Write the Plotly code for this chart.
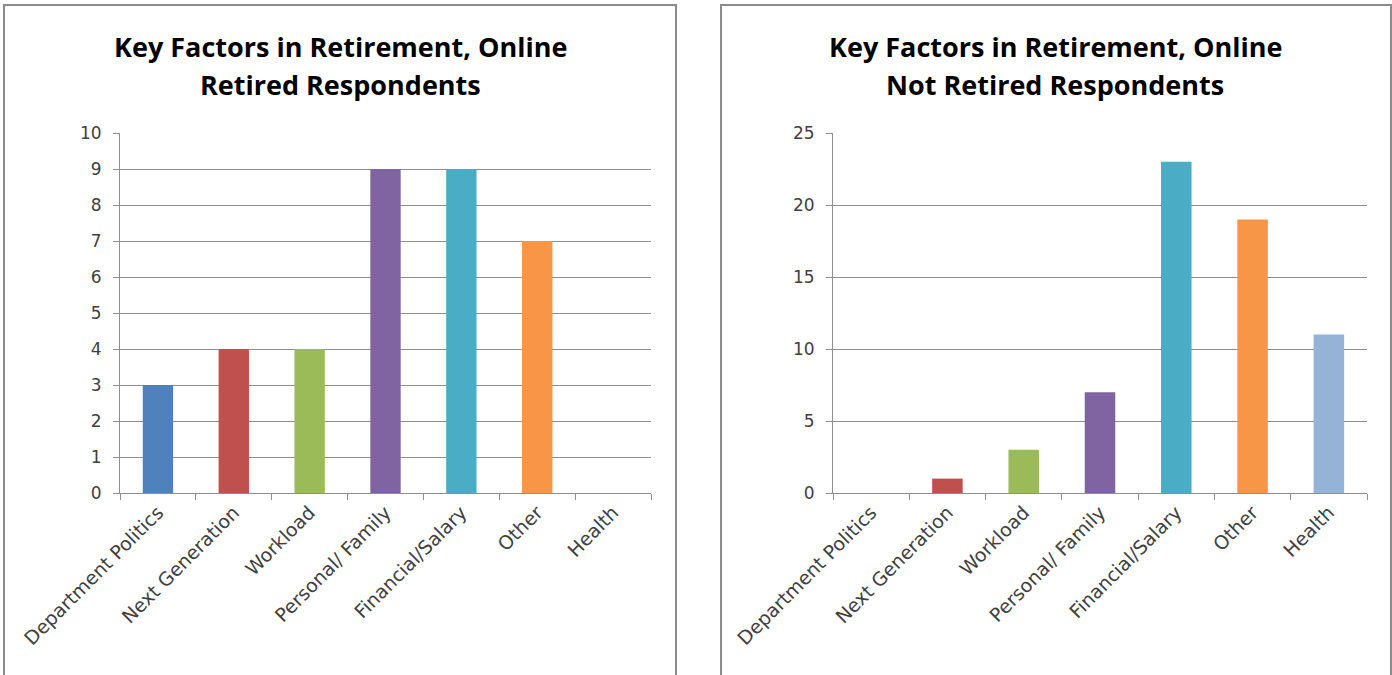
import plotly.graph_objects as go

W, H = 1392, 675

categories = ["Department Politics", "Next Generation", "Workload",
              "Personal/ Family", "Financial/Salary", "Other", "Health"]
retired_counts = [3, 4, 4, 9, 9, 7, 0]
not_retired_counts = [0, 1, 3, 7, 23, 19, 11]
bar_colors = ["#4F81BD", "#C0504D", "#9BBB59", "#8064A2",
              "#4BACC6", "#F79646", "#95B3D7"]
left_title = ["Key Factors in Retirement, Online", "Retired Respondents"]
right_title = ["Key Factors in Retirement, Online", "Not Retired Respondents"]


def px_x(x):
    return x / W


def px_y(y):
    return 1 - y / H


TITLE_FONT = "'Open Sans', Lato, sans-serif"
TICK_FONT = "'DejaVu Sans', sans-serif"
GRID = "#8e8e8e"
XTICKFONT = dict(family=TICK_FONT, size=19, color="#404040")
YTICKFONT = dict(family=TICK_FONT, size=17, color="#404040")

fig = go.Figure()
fig.add_trace(go.Bar(x=categories, y=retired_counts, marker_color=bar_colors,
                     marker_line_width=0, xaxis="x", yaxis="y",
                     showlegend=False))
fig.add_trace(go.Bar(x=categories, y=not_retired_counts, marker_color=bar_colors,
                     marker_line_width=0, xaxis="x2", yaxis="y2",
                     showlegend=False))

plot_top, plot_bottom = 133, 493
ydom = [px_y(plot_bottom), px_y(plot_top)]

xaxis_common = dict(
    type="category", tickangle=-45, tickfont=XTICKFONT, automargin=False,
    showline=True, linecolor=GRID, linewidth=1,
    ticks="outside", tickson="boundaries", ticklen=6, tickcolor=GRID,
    showgrid=False, fixedrange=True,
)
yaxis_common = dict(
    tickfont=YTICKFONT, automargin=False, showline=True, linecolor=GRID,
    linewidth=1, ticks="outside", ticklen=6, tickcolor=GRID,
    ticklabelstandoff=8,
    showgrid=True, gridcolor=GRID, gridwidth=1, zeroline=False,
    fixedrange=True,
)

fig.update_layout(
    width=W, height=H,
    margin=dict(l=0, r=0, t=0, b=0, autoexpand=False),
    paper_bgcolor="white", plot_bgcolor="white",
    bargap=0.6,
    xaxis=dict(domain=[px_x(120), px_x(651)], anchor="y", **xaxis_common),
    yaxis=dict(domain=ydom, anchor="x", range=[0, 10], dtick=1, **yaxis_common),
    xaxis2=dict(domain=[px_x(833), px_x(1367)], anchor="y2", **xaxis_common),
    yaxis2=dict(domain=ydom, anchor="x2", range=[0, 25], dtick=5, **yaxis_common),
)

# chart frames
for x0, x1 in [(4, 676), (721, 1391)]:
    fig.add_shape(type="rect", xref="paper", yref="paper",
                  x0=px_x(x0), x1=px_x(x1), y0=px_y(680), y1=px_y(5),
                  line=dict(color="#8c8c8c", width=2), fillcolor="rgba(0,0,0,0)")

# two-line titles
for cx, lines in [(340, left_title), (1055, right_title)]:
    for i, txt in enumerate(lines):
        fig.add_annotation(text=f"<b>{txt}</b>", xref="paper", yref="paper",
                           x=px_x(cx), y=px_y(46 + 39 * i), xanchor="center",
                           yanchor="middle", showarrow=False,
                           font=dict(family=TITLE_FONT, size=27, color="#000000"))

fig.write_html("out.html")
